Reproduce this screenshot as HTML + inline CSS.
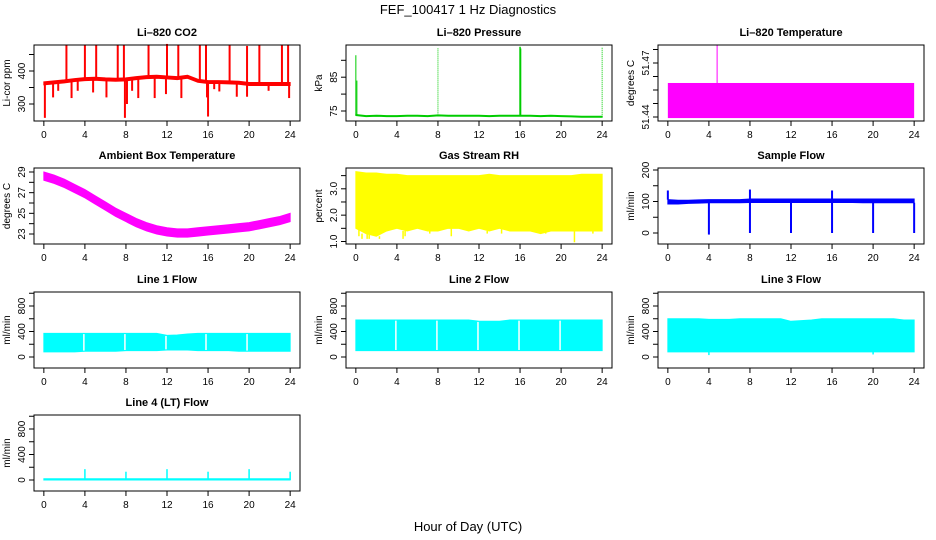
<!DOCTYPE html>
<html><head><meta charset="utf-8">
<style>
body{margin:0;background:#fff;}
svg{display:block;font-family:"Liberation Sans",sans-serif;}
</style></head>
<body>
<svg id="c" width="936" height="540" viewBox="0 0 936 540">
<text x="468" y="14" text-anchor="middle" font-size="13">FEF_100417  1 Hz Diagnostics</text>
<text x="468" y="531" text-anchor="middle" font-size="13">Hour of Day (UTC)</text>
</svg>
<script>
// ---- data ----
const hours=[0,1,2,3,4,5,6,7,8,9,10,11,12,13,14,15,16,17,18,19,20,21,22,23,24];
const xTicks=[0,4,8,12,16,20,24];
// CO2
const co2Base=[362,365,368,372,375,376,374,373,374,378,381,382,380,378,382,370,366,366,365,364,360,360,360,360,360];
const co2UpH=[2.2,4,5.1,7.2,7.8,10.2,12,13.1,15.2,15.8,18.1,19.8,21,23.2,23.8];
const co2UpV=[480,480,480,480,478,480,482,480,480,478,480,476,480,478,480];
const co2DnH=[0.1,0.9,1.4,2.7,3.3,4.8,6.1,7.9,8.1,8.6,9.2,10.8,11.9,13.4,15.9,16.0,16.6,17.1,18.8,19.8,21.9,23.9];
const co2DnV=[258,320,340,318,340,335,320,258,300,340,318,318,330,318,320,262,345,338,322,322,340,318];
// Pressure
const presBase=[73.8,73.5,73.6,73.5,73.5,73.6,73.6,73.5,73.7,73.6,73.6,73.6,73.6,73.5,73.6,73.6,73.6,73.6,73.5,73.6,73.5,73.4,73.3,73.3,73.3];
const presSpH=[0,0.1,8,16,16.05,24];
const presSpV=[91.5,84,93.8,94,93.5,93.8];
// Li-820 temperature
const tempBlockTop=51.4589, tempBlockBottom=51.4394, tempSpikeH=4.8, tempSpikeV=51.48;
const tempTicks=[51.44,51.4475,51.455,51.4625,51.47,51.4775];
// Ambient box temp
const ambMid=[28.6,28.3,27.9,27.4,26.9,26.3,25.7,25.1,24.6,24.1,23.7,23.4,23.2,23.1,23.1,23.2,23.3,23.4,23.5,23.6,23.7,23.9,24.1,24.3,24.6];
const ambHalf=0.4;
// RH
const rhHigh=[3.65,3.6,3.6,3.55,3.55,3.5,3.5,3.5,3.5,3.5,3.5,3.5,3.5,3.55,3.5,3.5,3.5,3.5,3.5,3.5,3.5,3.5,3.55,3.55,3.55];
const rhLow=[1.5,1.3,1.2,1.4,1.5,1.4,1.5,1.4,1.4,1.5,1.5,1.4,1.5,1.4,1.5,1.4,1.4,1.4,1.3,1.4,1.4,1.4,1.4,1.4,1.4];
const rhDipH=[0.3,0.6,1.1,1.3,2.3,4.6,4.8,7.2,9.3,12.8,14.2,17.8,18.5,21.3,23.1];
const rhDipV=[1.2,1.1,1.1,1.1,1.1,1.1,1.2,1.3,1.2,1.3,1.3,1.3,1.3,0.97,1.3];
// Sample flow
const sfLow=[92,92,94,95,96,96,96,96,97,97,97,97,97,97,97,97,97,97,97,96,96,96,96,96,96];
const sfHigh=[106,104,104,105,106,106,106,106,108,108,108,108,108,108,108,108,108,108,108,108,108,108,108,108,108];
const sfDipH=[4,8,12,16,20,24];
const sfDipV=[-5,0,0,0,0,0];
const sfSpH=[0,8,16];
const sfSpV=[135,138,135];
// Line flows
const l1Low=[80,80,80,80,90,90,90,90,100,100,100,100,110,110,110,100,100,100,100,90,90,90,90,90,90];
const l1High=[370,370,370,370,370,370,370,370,370,370,370,370,340,345,360,370,370,370,370,370,370,370,370,370,370];
const l1GapH=[3.9,7.9,11.9,15.8,19.8];
const l2Low=[100,100,100,100,100,100,100,100,100,100,100,100,100,100,100,100,100,100,100,100,100,100,100,100,100];
const l2High=[580,580,580,580,580,580,580,580,580,580,580,580,560,560,560,580,580,580,580,580,580,580,580,580,580];
const l2GapH=[3.9,7.9,11.9,15.9,19.9];
const l3Low=[80,80,80,80,80,80,80,80,80,80,80,80,80,80,80,80,80,80,80,80,80,80,80,80,80];
const l3High=[600,600,600,600,590,590,590,600,600,600,600,600,560,570,580,600,600,600,600,600,600,600,600,580,580];
const l3DipH=[4,20];
const l3DipV=[30,40];
const l4High=[20,20,20,20,20,20,20,20,20,20,20,20,20,20,20,20,20,20,20,20,20,20,20,20,20];
const l4SpH=[4,8,12,16,20,24];
const l4SpV=[170,130,170,130,170,130];

// ---- layout ----
const NS='http://www.w3.org/2000/svg';
const svg=document.getElementById('c');
const colL=[34,346,658], colW=266;
const rowT=[45,168,292,415], rowH=76;
function el(tag,attrs,parent){const e=document.createElementNS(NS,tag);for(const k in attrs)e.setAttribute(k,attrs[k]);(parent||svg).appendChild(e);return e;}
function xMap(c){const L=colL[c];return h=>L+colW*(h+0.96)/25.92;}
function yMap(v0,p0,v1,p1){return v=>p0+(v-v0)*(p1-p0)/(v1-v0);}

function panel(name,c,r,title,ylab,ys,ticks,labels){
  const g=el('g',{});
  
  
  const L=colL[c],T=rowT[r],x=xMap(c);
  const t=el('text',{x:L+colW/2,y:T-9,'text-anchor':'middle','font-size':'11','font-weight':'bold'},g);
  t.textContent=title;
  
  
  const yl=el('text',{transform:`translate(${L-24},${T+rowH/2}) rotate(-90)`,'text-anchor':'middle','font-size':'10'},g);
  yl.textContent=ylab;
  
  
  const xa=el('g',{},g);
  
  
  el('line',{x1:x(0),x2:x(24),y1:T+rowH,y2:T+rowH,stroke:'#000'},xa);
  xTicks.forEach(h=>{
    el('line',{x1:x(h),x2:x(h),y1:T+rowH,y2:T+rowH+5,stroke:'#000'},xa);
    const tl=el('text',{x:x(h),y:T+rowH+17,'text-anchor':'middle','font-size':'10'},xa);
    tl.textContent=h;
  });
  const ya=el('g',{},g);
  
  
  ticks.forEach((v,i)=>{
    const py=ys(v);
    el('line',{x1:L-5,x2:L,y1:py,y2:py,stroke:'#000'},ya);
    if(labels[i]!==''){
      const tl=el('text',{transform:`translate(${L-9},${py}) rotate(-90)`,'text-anchor':'middle','font-size':'10'},ya);
      tl.textContent=labels[i];
    }
  });
  const plot=el('g',{},g);
  
  
  return {g,plot,x,L,T,box:()=>{const b=el('rect',{x:L,y:T,width:colW,height:rowH,fill:'none',stroke:'#000'},g);}};
}
function band(p,x,ys,lo,hi,color){
  let d='';
  hours.forEach((h,i)=>{d+=(i?'L':'M')+x(h)+','+ys(hi[i]);});
  for(let i=hours.length-1;i>=0;i--)d+='L'+x(hours[i])+','+ys(lo[i]);
  return el('path',{d:d+'Z',fill:color,stroke:color,'stroke-width':'1'},p);
}
function vline(p,x,ys,h,v0,v1,color,w,dash){const a={x1:x(h),x2:x(h),y1:ys(v0),y2:ys(v1),stroke:color,'stroke-width':w||1.5};if(dash)a['stroke-dasharray']=dash;return el('line',a,p);}

// CO2
(function(){
  const ys=yMap(300,104,400,71);
  const P=panel('co2',0,0,'Li\u2013820 CO2','Li-cor ppm',ys,[300,350,400,450],['300','','400','']);
  const lo=co2Base.map(v=>v-4),hi=co2Base.map(v=>v+5);
  band(P.plot,P.x,ys,lo,hi,'#ff0000');
  co2UpH.forEach((h,i)=>vline(P.plot,P.x,ys,h,co2Base[Math.round(h)],co2UpV[i],'#ff0000',2));
  co2DnH.forEach((h,i)=>vline(P.plot,P.x,ys,h,co2Base[Math.round(h)],co2DnV[i],'#ff0000',2));
  P.box();
})();
// Pressure
(function(){
  const ys=yMap(75,111,90,60.3);
  const P=panel('pressure',1,0,'Li\u2013820 Pressure','kPa',ys,[75,80,85,90],['75','','85','']);
  const lo=presBase.map(v=>v-0.15),hi=presBase.map(v=>v+0.15);
  band(P.plot,P.x,ys,lo,hi,'#00cc00');
  presSpH.forEach((h,i)=>vline(P.plot,P.x,ys,h,presBase[Math.round(h)],presSpV[i],'#00cc00',i==3||i==4?1.5:1,(i==2||i==5)?'1,1':''));
  P.box();
})();
// Li-820 temperature
(function(){
  const ys=yMap(51.44,117,51.47,63);
  const P=panel('li820-temp',2,0,'Li\u2013820 Temperature','degrees C',ys,tempTicks,['51.44','','','','51.47','']);
  const r=el('rect',{x:P.x(0),y:ys(tempBlockTop),width:P.x(24)-P.x(0),height:ys(tempBlockBottom)-ys(tempBlockTop),fill:'#ff00ff'},P.plot);
  
  
  vline(P.plot,P.x,ys,tempSpikeH,tempBlockTop,tempSpikeV,'#ff00ff',1);
  P.box();
})();
// Ambient
(function(){
  const ys=yMap(23,234,29,172);
  const P=panel('ambient-temp',0,1,'Ambient Box Temperature','degrees C',ys,[23,24,25,26,27,28,29],['23','','25','','27','','29']);
  band(P.plot,P.x,ys,ambMid.map(v=>v-ambHalf),ambMid.map(v=>v+ambHalf),'#ff00ff');
  P.box();
})();
// RH
(function(){
  const ys=yMap(1,241.5,3,188.8);
  const P=panel('gas-rh',1,1,'Gas Stream RH','percent',ys,[1,1.5,2,2.5,3,3.5],['1.0','','2.0','','3.0','']);
  band(P.plot,P.x,ys,rhLow,rhHigh,'#ffff00');
  rhDipH.forEach((h,i)=>vline(P.plot,P.x,ys,h,rhLow[Math.round(h)],rhDipV[i],'#ffff00',1.5));
  P.box();
})();
// Sample flow
(function(){
  const ys=yMap(0,233,200,170);
  const P=panel('sample-flow',2,1,'Sample Flow','ml/min',ys,[0,50,100,150,200],['0','','100','','200']);
  band(P.plot,P.x,ys,sfLow,sfHigh,'#0000ff');
  sfDipH.forEach((h,i)=>vline(P.plot,P.x,ys,h,sfLow[Math.min(24,Math.round(h))],sfDipV[i],'#0000ff',2));
  sfSpH.forEach((h,i)=>vline(P.plot,P.x,ys,h,sfHigh[Math.round(h)],sfSpV[i],'#0000ff',2));
  P.box();
})();
// Line flows
function lineFlow(name,c,r,title,lo,hi,gaps){
  const T=rowT[r];
  const ys=yMap(0,T+65,800,T+14);
  const P=panel(name,c,r,title,'ml/min',ys,[0,200,400,600,800,1000],['0','','400','','800','']);
  band(P.plot,P.x,ys,lo,hi,'#00ffff');
  (gaps||[]).forEach(h=>vline(P.plot,P.x,ys,h,lo[Math.round(h)]+10,hi[Math.round(h)]-10,'#ffffff',1.5));
  P.box();
  return {P,ys};
}
lineFlow('line1-flow',0,2,'Line 1 Flow',l1Low,l1High,l1GapH);
lineFlow('line2-flow',1,2,'Line 2 Flow',l2Low,l2High,l2GapH);
(function(){
  const r=lineFlow('line3-flow',2,2,'Line 3 Flow',l3Low,l3High,[]);
  l3DipH.forEach((h,i)=>vline(r.P.plot,r.P.x,r.ys,h,l3Low[h],l3DipV[i],'#00ffff',1.5));
})();
(function(){
  const r=lineFlow('line4-flow',0,3,'Line 4 (LT) Flow',hours.map(()=>0),l4High,[]);
  l4SpH.forEach((h,i)=>vline(r.P.plot,r.P.x,r.ys,h,0,l4SpV[i],'#00ffff',1.5));
})();
</script>
</body></html>
